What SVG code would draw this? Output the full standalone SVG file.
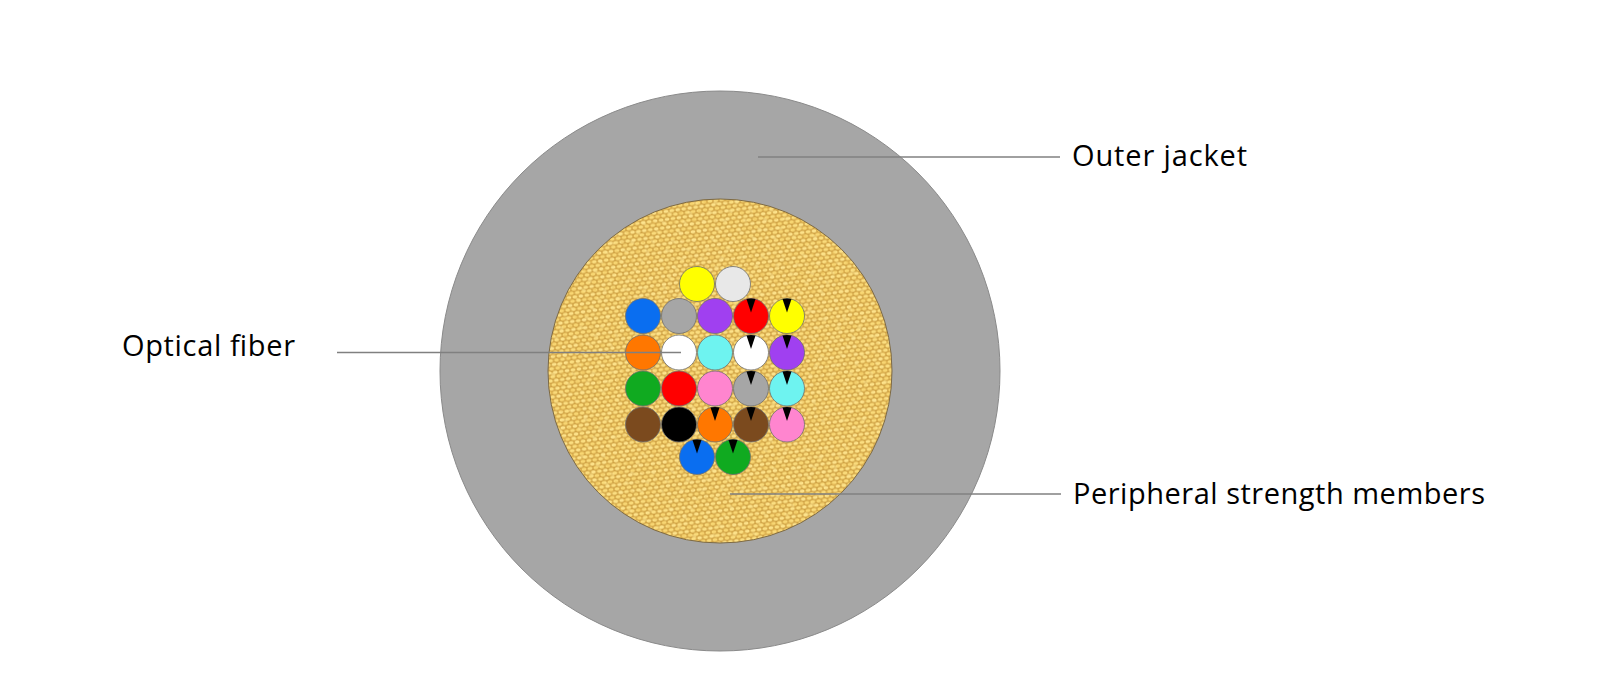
<svg xmlns="http://www.w3.org/2000/svg" width="1610" height="692" viewBox="0 0 1610 692">
<style>
.lbl{font-family:"Open Sans",Inter,"Liberation Sans",sans-serif;font-size:29px;fill:#000}
.lead{stroke:#808080;stroke-width:1.6;fill:none}
.f{stroke:#6e6e6e;stroke-width:0.8}
.tk{fill:#000}
</style>
<defs>
<pattern id="pebbles" width="12" height="8" patternUnits="userSpaceOnUse" patternTransform="rotate(-8)">
<rect width="12" height="8" fill="#d0a244"/>
<ellipse cx="3" cy="2" rx="2.6" ry="1.7" fill="#fadb7a"/>
<ellipse cx="9" cy="2" rx="2.5" ry="1.8" fill="#f8d672"/>
<ellipse cx="0" cy="6" rx="2.6" ry="1.7" fill="#fbde80"/>
<ellipse cx="6" cy="6" rx="2.5" ry="1.8" fill="#fde28a"/>
<ellipse cx="12" cy="6" rx="2.6" ry="1.7" fill="#fbde80"/>
</pattern>
<pattern id="pebbles2" width="17" height="11" patternUnits="userSpaceOnUse" patternTransform="rotate(31)">
<ellipse cx="4" cy="3" rx="2.6" ry="1.5" fill="#fde592" opacity="0.5"/>
<ellipse cx="12" cy="8" rx="2.4" ry="1.4" fill="#ecc05a" opacity="0.4"/>
</pattern>
<path id="tick" d="M0 -3.5 L-4.5 -16.9 A17.5 17.5 0 0 1 4.5 -16.9 Z"/>
</defs>

<g id="outer-jacket">
<circle cx="720" cy="371" r="280" fill="#a6a6a6" stroke="#8a8a8a" stroke-width="1"/>
</g>

<g id="strength-members">
<circle cx="720" cy="371" r="172" fill="url(#pebbles)"/>
<circle cx="720" cy="371" r="172" fill="url(#pebbles2)" stroke="#7d6a45" stroke-width="1"/>
</g>

<g id="optical-fibers">
<circle class="f" cx="697" cy="284" r="17.5" fill="#ffff00"/>
<circle class="f" cx="733" cy="284" r="17.5" fill="#e8e8e8"/>

<circle class="f" cx="643" cy="316" r="17.5" fill="#0a6ef0"/>
<circle class="f" cx="679" cy="316" r="17.5" fill="#a6a6a6"/>
<circle class="f" cx="715" cy="316" r="17.5" fill="#a040f0"/>
<circle class="f" cx="751" cy="316" r="17.5" fill="#ff0000"/>
<circle class="f" cx="787" cy="316" r="17.5" fill="#ffff00"/>

<circle class="f" cx="643" cy="352.5" r="17.5" fill="#ff7700"/>
<circle class="f" cx="679" cy="352.5" r="17.5" fill="#ffffff"/>
<circle class="f" cx="715" cy="352.5" r="17.5" fill="#6ef3f0"/>
<circle class="f" cx="751" cy="352.5" r="17.5" fill="#ffffff"/>
<circle class="f" cx="787" cy="352.5" r="17.5" fill="#a040f0"/>

<circle class="f" cx="643" cy="388.5" r="17.5" fill="#10aa20"/>
<circle class="f" cx="679" cy="388.5" r="17.5" fill="#ff0000"/>
<circle class="f" cx="715" cy="388.5" r="17.5" fill="#ff85cf"/>
<circle class="f" cx="751" cy="388.5" r="17.5" fill="#a6a6a6"/>
<circle class="f" cx="787" cy="388.5" r="17.5" fill="#6ef3f0"/>

<circle class="f" cx="643" cy="424.5" r="17.5" fill="#7b4a1e"/>
<circle class="f" cx="679" cy="424.5" r="17.5" fill="#000000"/>
<circle class="f" cx="715" cy="424.5" r="17.5" fill="#ff7700"/>
<circle class="f" cx="751" cy="424.5" r="17.5" fill="#7b4a1e"/>
<circle class="f" cx="787" cy="424.5" r="17.5" fill="#ff85cf"/>

<circle class="f" cx="697" cy="457" r="17.5" fill="#0a6ef0"/>
<circle class="f" cx="733" cy="457" r="17.5" fill="#10aa20"/>

<use href="#tick" class="tk" x="751" y="316"/>
<use href="#tick" class="tk" x="787" y="316"/>
<use href="#tick" class="tk" x="751" y="352.5"/>
<use href="#tick" class="tk" x="787" y="352.5"/>
<use href="#tick" class="tk" x="751" y="388.5"/>
<use href="#tick" class="tk" x="787" y="388.5"/>
<use href="#tick" class="tk" x="715" y="424.5"/>
<use href="#tick" class="tk" x="751" y="424.5"/>
<use href="#tick" class="tk" x="787" y="424.5"/>
<use href="#tick" class="tk" x="697" y="457"/>
<use href="#tick" class="tk" x="733" y="457"/>
</g>

<g id="connectors">
<line class="lead" x1="758" y1="157" x2="1060" y2="157"/>
<line class="lead" x1="337" y1="352.5" x2="681" y2="352.5"/>
<line class="lead" x1="730" y1="494" x2="1061" y2="494"/>
</g>

<g id="label-outer-jacket">
<text class="lbl" x="1072" y="166" textLength="175">Outer jacket</text>
</g>
<g id="label-optical-fiber">
<text class="lbl" x="122" y="356" textLength="173">Optical fiber</text>
</g>
<g id="label-strength-members">
<text class="lbl" x="1073" y="504" textLength="412">Peripheral strength members</text>
</g>
</svg>
